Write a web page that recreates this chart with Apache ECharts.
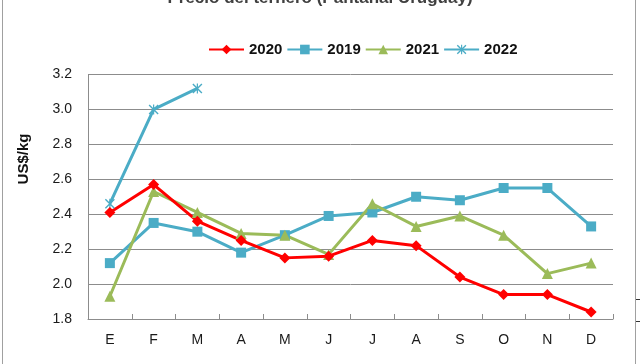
<!DOCTYPE html>
<html><head><meta charset="utf-8">
<script src="https://cdn.jsdelivr.net/npm/echarts@6/dist/echarts.min.js"></script>
<style>html,body{margin:0;padding:0;background:#fff}#c{width:640px;height:364px}</style>
</head><body><div id="c"></div>
<script>
var months = ['E','F','M','A','M','J','J','A','S','O','N','D'];
var yTicks = [1.8, 2.0, 2.2, 2.4, 2.6, 2.8, 3.0, 3.2];
var s2020 = [2.41, 2.57, 2.36, 2.25, 2.15, 2.16, 2.25, 2.22, 2.04, 1.94, 1.94, 1.84];
var s2019 = [2.12, 2.35, 2.30, 2.18, 2.28, 2.39, 2.41, 2.50, 2.48, 2.55, 2.55, 2.33];
var s2021 = [1.93, 2.53, 2.41, 2.29, 2.28, 2.17, 2.46, 2.33, 2.39, 2.28, 2.06, 2.12];
var s2022 = [2.46, 3.00, 3.12];
var titleText = 'Precio del ternero (Pantanal Uruguay)';
var yName = 'US$/kg';

var F = '"Liberation Sans", Arial, sans-serif';
var starPath = 'path://M0,1L1,0L10,9L9,10Z M9,0L10,1L1,10L0,9Z M4.4,0H5.6V10H4.4Z';
var chart = echarts.init(document.getElementById('c'), null, {renderer: 'canvas'});
function mk(name, data, color, symbol, size) {
  return {
    name: name, type: 'line', data: data,
    symbol: symbol, symbolSize: size, showSymbol: true,
    lineStyle: {color: color, width: 3},
    itemStyle: {color: color},
    emphasis: {disabled: true},
    animation: false
  };
}
chart.setOption({
  backgroundColor: '#fff',
  animation: false,
  title: {
    text: titleText, left: 'center', top: -15,
    textStyle: {fontFamily: F, fontSize: 17, fontWeight: 'bold', color: '#404040'}
  },
  legend: {
    data: ['2020', '2019', '2021', '2022'],
    left: 203, top: 37, itemWidth: 35, itemHeight: 12, itemGap: 4,
    textStyle: {fontFamily: F, fontSize: 15, fontWeight: 'bold', color: '#111'}
  },
  grid: {left: 88, right: 27, top: 74.5, bottom: 45, containLabel: false},
  xAxis: {
    type: 'category', data: months, boundaryGap: true,
    axisLine: {lineStyle: {color: '#8c8c8c', width: 1}},
    axisTick: {show: true, inside: true, length: 5, lineStyle: {color: '#8c8c8c'}},
    axisLabel: {fontFamily: F, fontSize: 14, color: '#1a1a1a', margin: 14}
  },
  yAxis: {
    type: 'value', min: yTicks[0], max: yTicks[yTicks.length - 1], interval: 0.2,
    axisLine: {show: true, lineStyle: {color: '#8c8c8c', width: 1}},
    axisTick: {show: false},
    splitLine: {lineStyle: {color: '#8c8c8c', width: 1}},
    axisLabel: {fontFamily: F, fontSize: 14, color: '#1a1a1a', margin: 16,
      formatter: function (v) { return v.toFixed(1); }}
  },
  series: [
    mk('2022', s2022, '#4BACC6', starPath, 10),
    mk('2019', s2019, '#4BACC6', 'rect', 10),
    mk('2021', s2021, '#9BBB59', 'triangle', 11),
    mk('2020', s2020, '#FF0000', 'diamond', 11)
  ],
  graphic: [
    {type: 'rect', shape: {x: 2.5, y: -5, width: 633, height: 380}, style: {fill: 'none', stroke: '#a0a0a0', lineWidth: 1}, silent: true},
    {type: 'line', shape: {x1: 636, y1: 299.5, x2: 640, y2: 299.5}, style: {stroke: '#333', lineWidth: 1}, silent: true},
    {type: 'line', shape: {x1: 636, y1: 321.5, x2: 640, y2: 321.5}, style: {stroke: '#333', lineWidth: 1}, silent: true},
    {type: 'text', x: 24, y: 159, rotation: Math.PI / 2,
      style: {text: yName, fontFamily: F, fontSize: 15, fontWeight: 'bold', fill: '#111', align: 'center', verticalAlign: 'middle'}, silent: true}
  ]
});
</script></body></html>
